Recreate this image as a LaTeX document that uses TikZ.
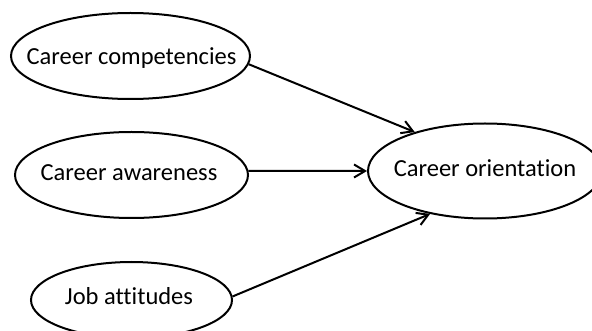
\documentclass[tikz,border=0pt]{standalone}
\usepackage{fontspec}
\setmainfont[Ligatures={NoCommon,NoRare,NoContextual}]{Carlito}
\usetikzlibrary{shapes.geometric,arrows.meta}

\tikzset{
  construct/.style={ellipse, draw=black, line width=2pt, inner sep=0pt},
  caption/.style={anchor=base, inner sep=0pt, font=\fontsize{24.5}{29}\selectfont},
  path/.style={line width=2pt, -{Straight Barb[length=11pt, width=13pt, line width=2pt]}}
}

\begin{document}
\begin{tikzpicture}[x=1pt, y=-1pt]
  \useasboundingbox (0,0) rectangle (592,331);

  % constructs
  \node[construct, minimum width=239pt, minimum height=86pt] (c1) at (130.5,56) {};
  \node[construct, minimum width=233pt, minimum height=86pt] (c2) at (131.5,175) {};
  \node[construct, minimum width=201pt, minimum height=76pt] (c3) at (131.5,300) {};
  \node[construct, minimum width=234pt, minimum height=95pt] (c4) at (485,171) {};

  % labels
  \node[caption] (t1) at (131.5,65) {Career competencies};
  \node[caption] (t2) at (129,181) {Career awareness};
  \node[caption] (t3) at (129,305) {Job attitudes};
  \node[caption] (t4) at (485,177) {Career orientation};

  % paths into the outcome
  \draw[path] (c1.-4) -- (c4.151);
  \draw[path] (c2.2) -- (c4.west);
  \draw[path] (c3.2) -- (c4.218);
\end{tikzpicture}
\end{document}
